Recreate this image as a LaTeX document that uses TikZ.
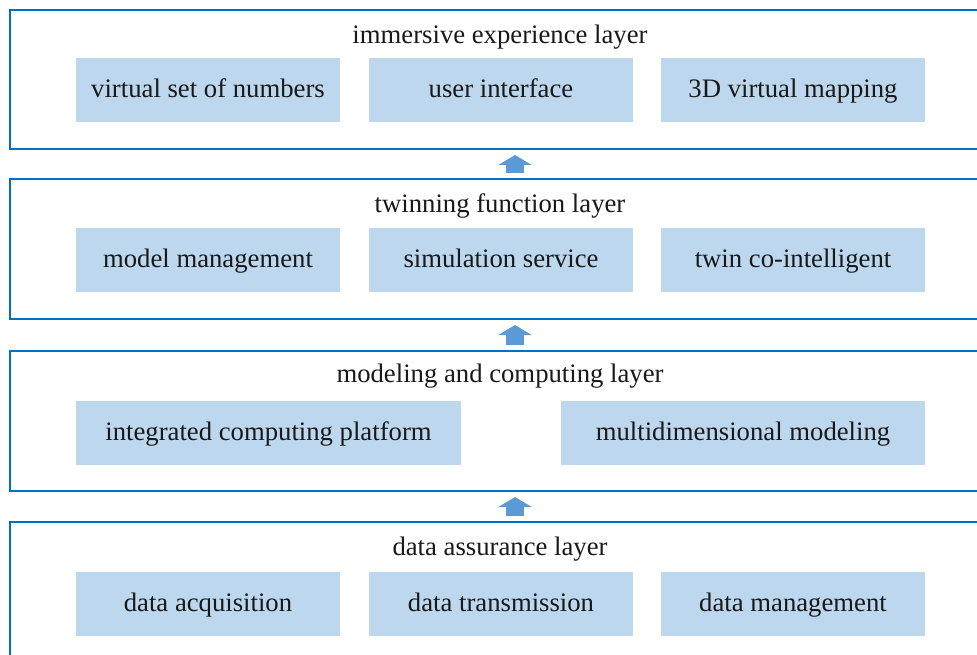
\documentclass[tikz,border=0pt]{standalone}
\usepackage{fontspec}
\setmainfont{Liberation Serif}
\usetikzlibrary{arrows.meta,calc}
\definecolor{bordc}{HTML}{0070C0}
\definecolor{boxc}{HTML}{BDD7EE}
\definecolor{arrc}{HTML}{5B9BD5}
\begin{document}
\begin{tikzpicture}[x=1pt,y=-1pt,
  layer/.style={draw=bordc,line width=2pt,rectangle,anchor=north west,inner sep=0pt},
  item/.style={fill=boxc,rectangle,inner sep=0pt,minimum height=64pt,
    font=\fontsize{26.7}{30}\selectfont,text=black!90,text height=19.2pt,text depth=4pt},
  ttl/.style={font=\fontsize{26.7}{30}\selectfont,text=black!90,inner sep=0pt,
    text height=19.2pt,text depth=4pt},
  uparrow/.style={draw=arrc,line width=18pt,-{Triangle[width=33pt,length=10pt]}}]
\useasboundingbox (0,0) rectangle (977,655);
\clip (0,0) rectangle (977,655);
% layers
\node[layer,minimum width=990pt,minimum height=139pt] (L1) at (9,9) {};
\node[layer,minimum width=990pt,minimum height=140pt] (L2) at (9,178) {};
\node[layer,minimum width=990pt,minimum height=140pt] (L3) at (9,350) {};
\node[layer,minimum width=990pt,minimum height=160pt] (L4) at (9,521) {};
% titles
\node[ttl] (T1) at (500,36) {immersive experience layer};
\node[ttl] (T2) at (500,205) {twinning function layer};
\node[ttl] (T3) at (500,375) {modeling and computing layer};
\node[ttl] (T4) at (500,548) {data assurance layer};
% row 1
\node[item,minimum width=264pt] (A1) at (208,90) {virtual set of numbers};
\node[item,minimum width=264pt] (A2) at (501,90) {user interface};
\node[item,minimum width=264pt] (A3) at (793,90) {3D virtual mapping};
% row 2
\node[item,minimum width=264pt] (B1) at (208,260) {model management};
\node[item,minimum width=264pt] (B2) at (501,260) {simulation service};
\node[item,minimum width=264pt] (B3) at (793,260) {twin co-intelligent};
% row 3
\node[item,minimum width=385pt] (C1) at (268.5,432.5) {integrated computing platform};
\node[item,minimum width=364pt] (C2) at (743,432.5) {multidimensional modeling};
% row 4
\node[item,minimum width=264pt] (D1) at (208,603.5) {data acquisition};
\node[item,minimum width=264pt] (D2) at (501,603.5) {data transmission};
\node[item,minimum width=264pt] (D3) at (793,603.5) {data management};
% arrows
\coordinate (ax) at (515,0);
\draw[uparrow] ([yshift=5pt]L2.north west -| ax) -- ([yshift=-5pt]L1.south west -| ax);
\draw[uparrow] ([yshift=5pt]L3.north west -| ax) -- ([yshift=-5pt]L2.south west -| ax);
\draw[uparrow] ([yshift=5pt]L4.north west -| ax) -- ([yshift=-5pt]L3.south west -| ax);
\end{tikzpicture}
\end{document}
